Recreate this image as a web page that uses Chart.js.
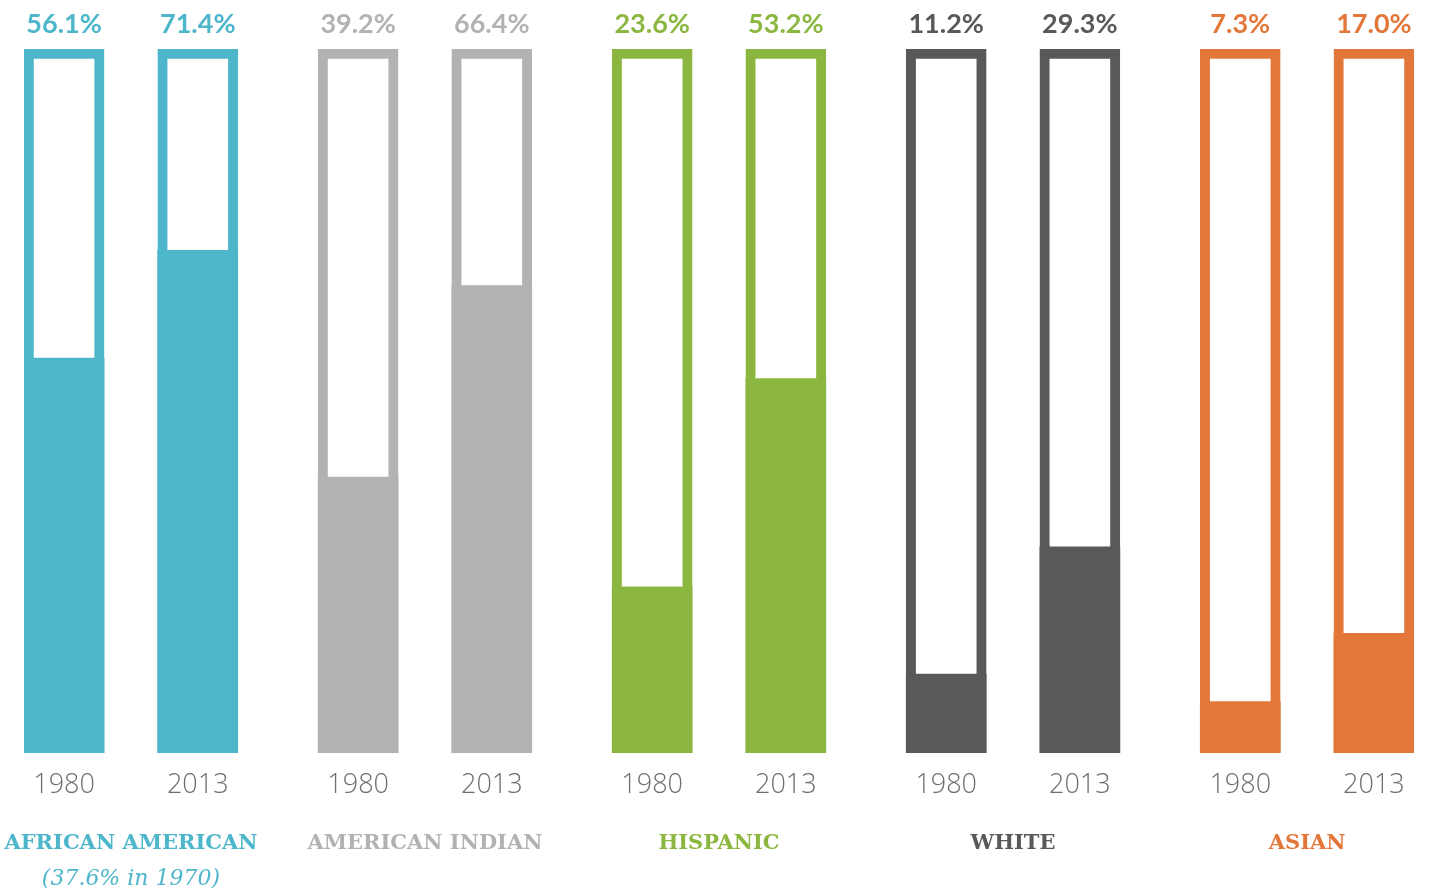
<!DOCTYPE html>
<html>
<head>
<meta charset="utf-8">
<script src="https://cdn.jsdelivr.net/npm/chart.js@4/dist/chart.umd.min.js"></script>
<style>
    html, body { margin: 0; padding: 0; background: #fff; }
    #wrap { width: 1430px; height: 892px; position: relative; }
</style>
</head>
<body>
<div id="wrap"><canvas id="chart"></canvas></div>
<script>
// --- Data --- //
const groups = ['AFRICAN AMERICAN', 'AMERICAN INDIAN', 'HISPANIC', 'WHITE', 'ASIAN'];
const groupNotes = ['(37.6% in 1970)', '', '', '', ''];
const years = ['1980', '2013'];
const values1980 = [56.1, 39.2, 23.6, 11.2, 7.3];
const values2013 = [71.4, 66.4, 53.2, 29.3, 17.0];
const groupColors = ['#4db6cb', '#b1b2b4', '#8bb741', '#58595b', '#e3773a'];

const GROUP_STEP = 2.2; // distance between groups, in bar slots

// build one point per bar
const points = [];
groups.forEach((g, i) => {
    [values1980[i], values2013[i]].forEach((v, j) => {
        points.push({ x: i * GROUP_STEP + j, value: v, year: years[j], group: i });
    });
});
const barColors = points.map(p => groupColors[p.group]);

// --- Text plugin: percentages on top, years and group names below --- //
const labelPlugin = {
    id: 'labels',
    afterDatasetsDraw(chart) {
        const ctx = chart.ctx;
        const xs = chart.scales.x;
        const area = chart.chartArea;
        ctx.save();
        ctx.textAlign = 'center';
        ctx.textBaseline = 'middle';
        points.forEach(p => {
            const px = xs.getPixelForValue(p.x);
            ctx.fillStyle = groupColors[p.group];
            ctx.font = 'bold 27px Lato';
            ctx.fillText(p.value.toFixed(1) + '%', px, area.top - 25);
            ctx.fillStyle = '#6d6e71';
            ctx.font = '300 27px "Open Sans"';
            ctx.fillText(p.year, px, area.bottom + 32);
        });
        groups.forEach((g, i) => {
            const cx = (xs.getPixelForValue(i * GROUP_STEP) + xs.getPixelForValue(i * GROUP_STEP + 1)) / 2;
            ctx.fillStyle = groupColors[i];
            ctx.font = 'bold 21px "DejaVu Serif"';
            ctx.fillText(g, cx, area.bottom + 91);
            if (groupNotes[i]) {
                ctx.font = 'italic 22px "DejaVu Serif"';
                ctx.fillText(groupNotes[i], cx, area.bottom + 126);
            }
        });
        ctx.restore();
    }
};

const canvas = document.getElementById('chart');
canvas.width = 1430;
canvas.height = 892;

new Chart(canvas, {
    type: 'bar',
    data: {
        datasets: [
            {
                label: 'value',
                data: points.map(p => ({ x: p.x, y: p.value })),
                backgroundColor: barColors,
                borderWidth: 0,
                barThickness: 80,
                grouped: false,
                order: 0
            },
            {
                label: 'outline',
                data: points.map(p => ({ x: p.x, y: 100 })),
                backgroundColor: '#ffffff',
                borderColor: barColors,
                borderWidth: 10,
                borderSkipped: false,
                barThickness: 80,
                grouped: false,
                order: 1
            }
        ]
    },
    options: {
        responsive: false,
        animation: false,
        layout: { padding: { top: 49, left: 24, right: 16, bottom: 139 } },
        plugins: { legend: { display: false }, tooltip: { enabled: false } },
        scales: {
            x: {
                type: 'linear',
                display: false,
                offset: false, // bar charts turn this on by default and shrink the area
                min: -0.3,
                max: 4 * GROUP_STEP + 1.3
            },
            y: {
                display: false,
                min: 0,
                max: 100
            }
        }
    },
    plugins: [labelPlugin]
});
</script>
</body>
</html>
